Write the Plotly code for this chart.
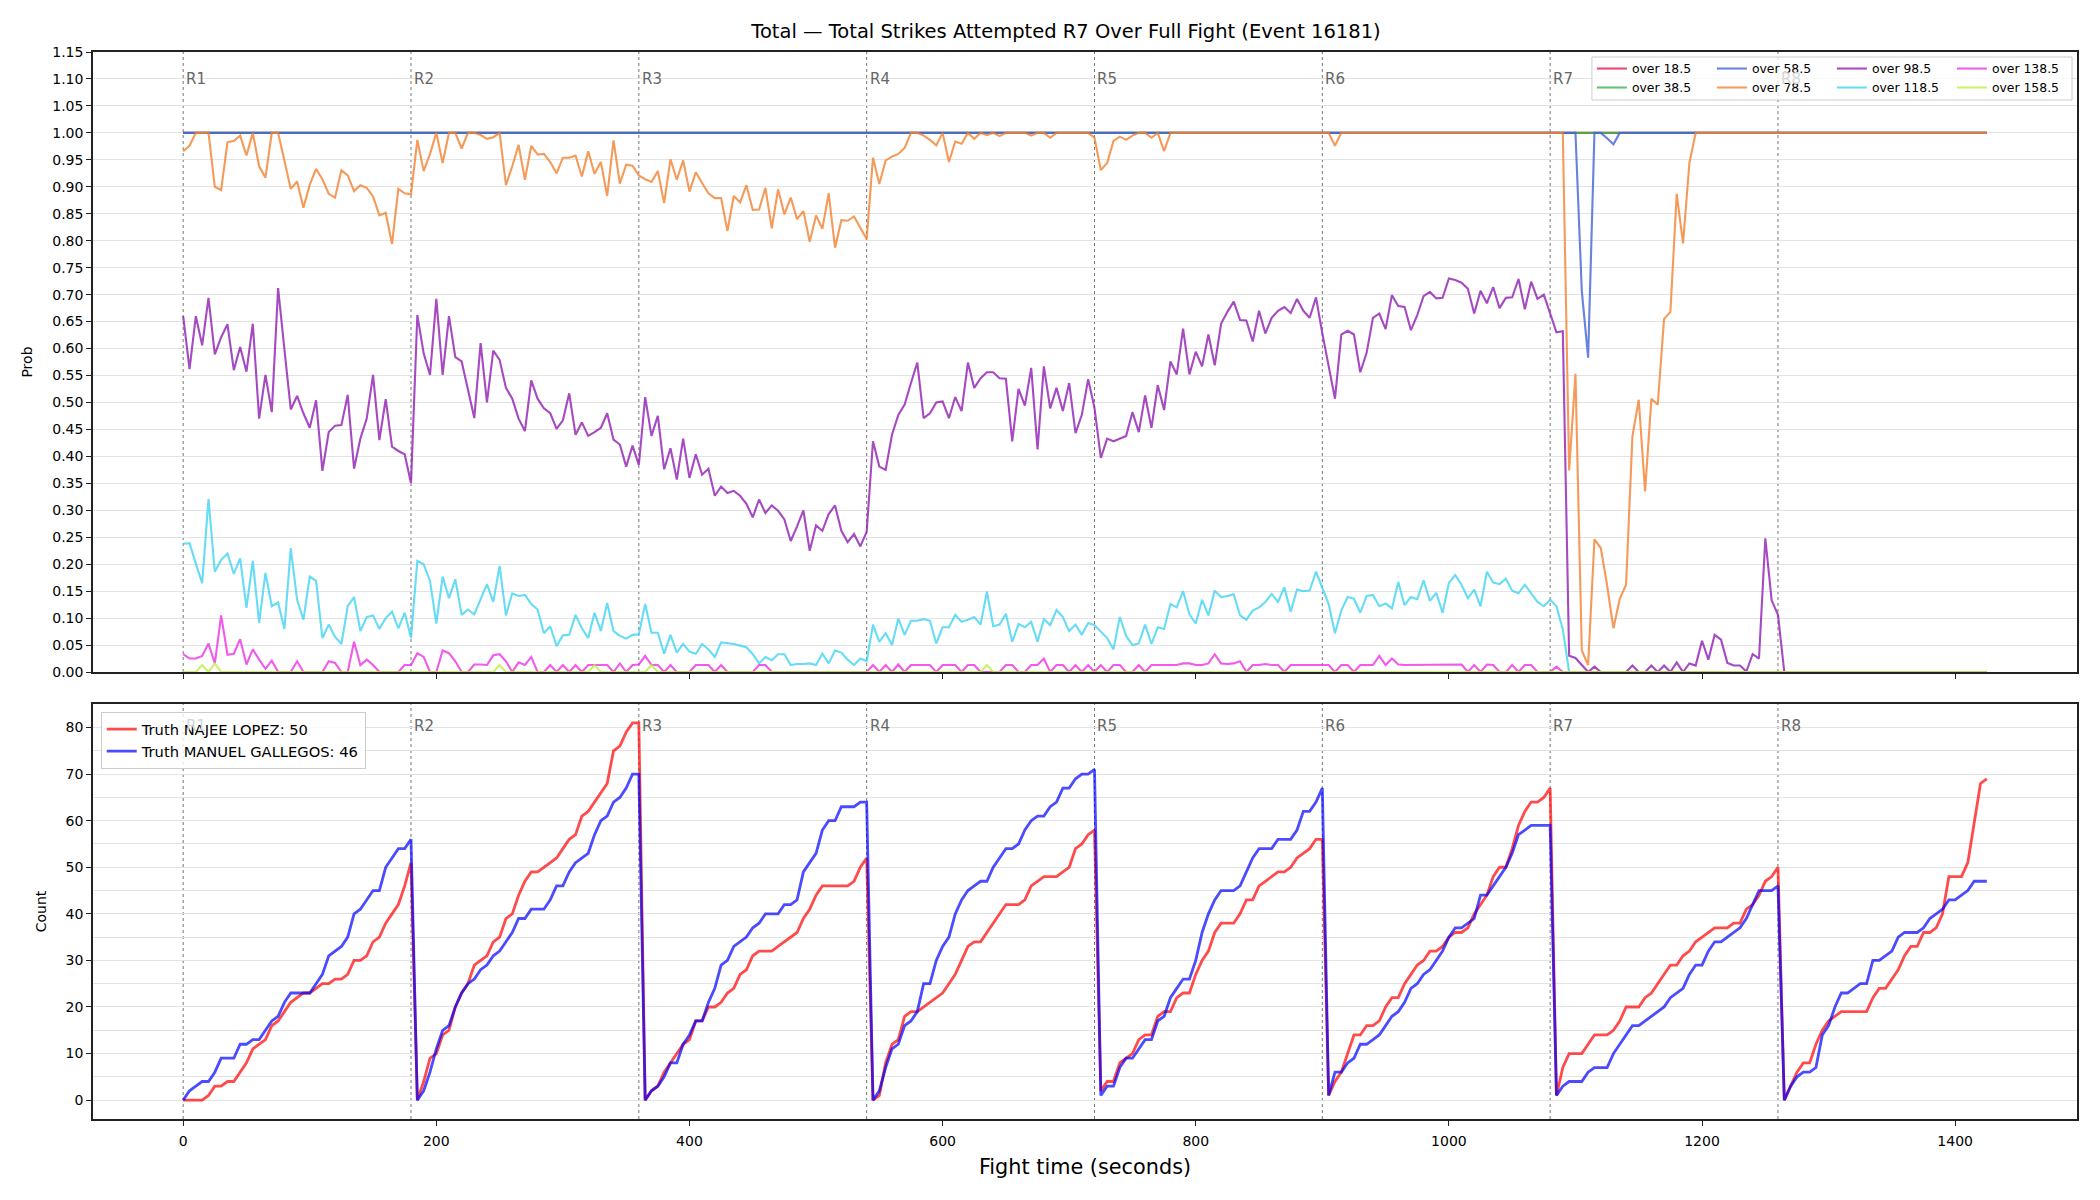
import plotly.graph_objects as go

# ---------------- data ----------------
fight_time = list(range(0, 1430, 5))          # sample times (s), 286 samples
round_starts = [0, 180, 360, 540, 720, 900, 1080, 1260]
round_labels = ["R1", "R2", "R3", "R4", "R5", "R6", "R7", "R8"]

line_names = ["over 18.5", "over 38.5", "over 58.5", "over 78.5",
              "over 98.5", "over 118.5", "over 138.5", "over 158.5"]
line_colors = ["#e6194b", "#3cb44b", "#4363d8", "#f58231",
               "#911eb4", "#42d4f4", "#f032e6", "#bfef45"]

over_18_5 = [1.0] * 286
over_38_5 = [1.0] * 286
over_58_5 = [1.0] * 221 + [0.707, 0.583, 1.0, 1.0, 0.990, 0.979] + [1.0] * 59

over_78_5 = (
    # R1
    [0.966, 0.976, 1.0, 1.0, 1.0, 0.900, 0.894, 0.983, 0.985, 0.995, 0.958, 1.0, 0.938,
     0.917, 1.0, 1.0, 0.947, 0.896, 0.910, 0.861, 0.904, 0.933, 0.914, 0.887, 0.880, 0.931,
     0.921, 0.892, 0.903, 0.898, 0.882, 0.847, 0.852, 0.794, 0.896, 0.888, 0.886]
    # R2
    + [0.987, 0.929, 0.961, 1.0, 0.944, 1.0, 1.0, 0.971, 1.0, 1.0, 0.996, 0.989, 0.992, 1.0,
       0.903, 0.938, 0.978, 0.913, 0.976, 0.960, 0.961, 0.946, 0.925, 0.954, 0.954, 0.958,
       0.919, 0.966, 0.924, 0.946, 0.883, 0.986, 0.906, 0.941, 0.939, 0.921]
    # R3
    + [0.914, 0.909, 0.929, 0.870, 0.951, 0.913, 0.949, 0.891, 0.927, 0.907, 0.888, 0.879,
       0.879, 0.818, 0.883, 0.871, 0.903, 0.857, 0.858, 0.898, 0.823, 0.895, 0.849, 0.880,
       0.840, 0.855, 0.798, 0.847, 0.822, 0.888, 0.787, 0.838, 0.837, 0.845, 0.823, 0.803]
    # R4
    + [0.954, 0.905, 0.949, 0.956, 0.961, 0.972, 1.0, 1.0, 0.995, 0.987, 0.977, 1.0, 0.946,
       0.984, 0.980, 1.0, 0.989, 1.0, 0.996, 1.0, 0.994, 1.0, 1.0, 1.0, 1.0, 0.995, 1.0, 1.0,
       0.991, 1.0, 1.0, 1.0, 1.0, 1.0, 1.0, 0.991]
    # R5
    + [0.931, 0.944, 0.985, 0.993, 0.987, 0.995, 1.0, 1.0, 0.991, 1.0, 0.966, 1.0] + [1.0] * 24
    # R6
    + [1.0, 0.976] + [1.0] * 34
    # R7
    + [1.0, 1.0, 0.374, 0.553, 0.040, 0.013, 0.246, 0.230, 0.161, 0.081, 0.136, 0.162, 0.437,
       0.505, 0.335, 0.507, 0.496, 0.655, 0.668, 0.887, 0.795, 0.944, 1.0] + [1.0] * 13
    # R8
    + [1.0] * 33
)

over_98_5 = (
    [0.660, 0.562, 0.660, 0.606, 0.694, 0.589, 0.621, 0.645, 0.560, 0.603, 0.557, 0.646,
     0.470, 0.551, 0.482, 0.712, 0.598, 0.487, 0.512, 0.480, 0.453, 0.504, 0.373, 0.445,
     0.457, 0.458, 0.514, 0.377, 0.433, 0.470, 0.551, 0.430, 0.506, 0.418, 0.410, 0.404, 0.350]
    + [0.662, 0.591, 0.551, 0.692, 0.551, 0.660, 0.584, 0.576, 0.524, 0.471, 0.610, 0.500,
       0.596, 0.579, 0.527, 0.507, 0.470, 0.447, 0.541, 0.507, 0.489, 0.480, 0.451, 0.467,
       0.517, 0.440, 0.463, 0.438, 0.445, 0.453, 0.480, 0.431, 0.422, 0.381, 0.420, 0.384]
    + [0.510, 0.438, 0.475, 0.376, 0.415, 0.357, 0.433, 0.360, 0.404, 0.366, 0.377, 0.327,
       0.344, 0.332, 0.336, 0.327, 0.312, 0.287, 0.320, 0.295, 0.309, 0.299, 0.283, 0.243,
       0.270, 0.300, 0.225, 0.272, 0.262, 0.293, 0.309, 0.262, 0.241, 0.256, 0.233, 0.260]
    + [0.428, 0.381, 0.375, 0.440, 0.477, 0.496, 0.536, 0.574, 0.471, 0.480, 0.500, 0.502,
       0.471, 0.510, 0.484, 0.574, 0.527, 0.545, 0.556, 0.556, 0.545, 0.544, 0.428, 0.525,
       0.494, 0.564, 0.413, 0.567, 0.489, 0.527, 0.484, 0.536, 0.443, 0.477, 0.543, 0.490]
    + [0.397, 0.433, 0.428, 0.433, 0.438, 0.482, 0.445, 0.513, 0.453, 0.532, 0.486, 0.576,
       0.552, 0.637, 0.552, 0.594, 0.567, 0.626, 0.569, 0.646, 0.668, 0.687, 0.653, 0.652,
       0.613, 0.670, 0.628, 0.657, 0.670, 0.677, 0.666, 0.692, 0.670, 0.657, 0.695, 0.628]
    + [0.568, 0.507, 0.626, 0.633, 0.626, 0.556, 0.592, 0.657, 0.665, 0.636, 0.699, 0.679,
       0.677, 0.634, 0.662, 0.697, 0.705, 0.693, 0.694, 0.730, 0.727, 0.722, 0.711, 0.665,
       0.707, 0.684, 0.714, 0.675, 0.694, 0.695, 0.729, 0.673, 0.724, 0.692, 0.700, 0.663]
    + [0.630, 0.632, 0.030, 0.026, 0.012, 0.0, 0.010, 0.0, 0.0, 0.0, 0.0, 0.0, 0.012, 0.0,
       0.0, 0.012, 0.0, 0.012, 0.0, 0.018, 0.0, 0.016, 0.012, 0.058, 0.023, 0.069, 0.060,
       0.017, 0.012, 0.012, 0.001, 0.033, 0.025, 0.248, 0.133, 0.106]
    + [0.0] * 33
)

over_118_5 = (
    [0.238, 0.239, 0.201, 0.165, 0.321, 0.186, 0.208, 0.220, 0.182, 0.211, 0.119, 0.206,
     0.091, 0.184, 0.122, 0.129, 0.080, 0.230, 0.134, 0.097, 0.177, 0.169, 0.063, 0.088,
     0.065, 0.052, 0.122, 0.139, 0.076, 0.102, 0.105, 0.080, 0.100, 0.112, 0.081, 0.110, 0.063]
    + [0.206, 0.200, 0.169, 0.090, 0.177, 0.137, 0.172, 0.106, 0.116, 0.107, 0.135, 0.163,
       0.130, 0.197, 0.105, 0.146, 0.141, 0.143, 0.126, 0.116, 0.072, 0.085, 0.048, 0.068,
       0.069, 0.106, 0.081, 0.063, 0.110, 0.076, 0.128, 0.076, 0.067, 0.062, 0.069, 0.070]
    + [0.126, 0.073, 0.073, 0.034, 0.069, 0.036, 0.052, 0.038, 0.034, 0.052, 0.042, 0.028,
       0.055, 0.054, 0.052, 0.049, 0.046, 0.033, 0.016, 0.028, 0.022, 0.033, 0.033, 0.013,
       0.015, 0.015, 0.016, 0.013, 0.034, 0.016, 0.040, 0.036, 0.023, 0.013, 0.025, 0.020]
    + [0.088, 0.056, 0.072, 0.050, 0.099, 0.069, 0.095, 0.095, 0.098, 0.095, 0.053, 0.083,
       0.083, 0.106, 0.093, 0.097, 0.102, 0.088, 0.149, 0.085, 0.088, 0.108, 0.056, 0.089,
       0.083, 0.093, 0.056, 0.098, 0.087, 0.115, 0.102, 0.076, 0.088, 0.069, 0.091, 0.087]
    + [0.075, 0.063, 0.042, 0.102, 0.067, 0.050, 0.053, 0.088, 0.052, 0.083, 0.080, 0.126,
       0.120, 0.150, 0.107, 0.090, 0.134, 0.105, 0.151, 0.139, 0.141, 0.144, 0.105, 0.097,
       0.114, 0.120, 0.130, 0.145, 0.130, 0.157, 0.112, 0.153, 0.150, 0.151, 0.186, 0.154]
    + [0.126, 0.072, 0.114, 0.139, 0.136, 0.110, 0.141, 0.143, 0.122, 0.127, 0.118, 0.167,
       0.124, 0.139, 0.135, 0.170, 0.132, 0.147, 0.110, 0.165, 0.180, 0.162, 0.137, 0.153,
       0.122, 0.186, 0.166, 0.163, 0.173, 0.151, 0.146, 0.162, 0.147, 0.130, 0.122, 0.134]
    + [0.122, 0.079] + [0.0] * 34
    + [0.0] * 33
)

over_138_5 = (
    [0.033, 0.025, 0.025, 0.030, 0.053, 0.016, 0.105, 0.032, 0.034, 0.061, 0.014, 0.042,
     0.023, 0.006, 0.021, 0.0, 0.0, 0.0, 0.020, 0.0, 0.0, 0.0, 0.0, 0.020, 0.017, 0.0, 0.0,
     0.056, 0.013, 0.023, 0.013, 0.0, 0.0, 0.0, 0.0, 0.013, 0.013]
    + [0.035, 0.028, 0.0, 0.0, 0.040, 0.035, 0.020, 0.0, 0.0, 0.014, 0.014, 0.013, 0.031,
       0.033, 0.020, 0.0, 0.018, 0.013, 0.028, 0.0, 0.0, 0.013, 0.0, 0.013, 0.0, 0.013, 0.0,
       0.013, 0.013, 0.013, 0.013, 0.0, 0.016, 0.0, 0.013, 0.014]
    + [0.030, 0.013, 0.013, 0.0, 0.013, 0.0, 0.0, 0.0, 0.013, 0.013, 0.013, 0.0, 0.013, 0.0,
       0.0, 0.0, 0.0, 0.0, 0.013, 0.013] + [0.0] * 16
    + [0.013, 0.0, 0.013, 0.0, 0.014, 0.0, 0.013, 0.013, 0.014, 0.013, 0.0, 0.013, 0.013,
       0.013, 0.0, 0.013, 0.013, 0.0, 0.0, 0.0, 0.0, 0.013, 0.013, 0.0, 0.0, 0.013, 0.013,
       0.025, 0.0, 0.013, 0.013, 0.0, 0.013, 0.0, 0.013, 0.0]
    + [0.013, 0.0, 0.013, 0.013, 0.0, 0.0, 0.013, 0.0, 0.013, 0.013, 0.013, 0.013, 0.013,
       0.016, 0.016, 0.013, 0.013, 0.016, 0.033, 0.016, 0.015, 0.016, 0.020, 0.0, 0.013,
       0.013, 0.015, 0.013, 0.013, 0.0, 0.013, 0.013, 0.013, 0.013, 0.013, 0.013]
    + [0.013, 0.0, 0.013, 0.013, 0.0, 0.013, 0.013, 0.013, 0.030, 0.013, 0.025, 0.014,
       0.013, 0.013, 0.013, 0.013, 0.013, 0.013, 0.013, 0.013, 0.014, 0.014, 0.0, 0.013, 0.0,
       0.014, 0.013, 0.0, 0.0, 0.013, 0.0, 0.013, 0.013, 0.0, 0.0, 0.0]
    + [0.010, 0.0] + [0.0] * 34
    + [0.0] * 33
)

over_158_5 = (
    [0.0, 0.0, 0.0, 0.013, 0.0, 0.016] + [0.0] * 31
    + [0.0] * 13 + [0.013] + [0.0] * 14 + [0.013] + [0.0] * 7
    + [0.0, 0.013] + [0.0] * 34
    + [0.0] * 18 + [0.013] + [0.0] * 17
    + [0.0] * 36 + [0.0] * 36 + [0.0] * 36 + [0.0] * 33
)

truth_lopez = (
    [0, 0, 0, 0, 1, 3, 3, 4, 4, 6, 8, 11, 12, 13, 16, 17, 19, 21, 22, 23, 23, 24, 25, 25,
     26, 26, 27, 30, 30, 31, 34, 35, 38, 40, 42, 46, 51]
    + [0, 4, 9, 10, 14, 15, 20, 23, 25, 29, 30, 31, 34, 35, 39, 40, 44, 47, 49, 49, 50, 51,
       52, 54, 56, 57, 61, 62, 64, 66, 68, 75, 76, 79, 81, 81]
    + [0, 2, 3, 6, 8, 10, 12, 13, 17, 17, 20, 20, 21, 23, 24, 27, 28, 31, 32, 32, 32, 33,
       34, 35, 36, 39, 41, 44, 46, 46, 46, 46, 46, 47, 50, 52]
    + [0, 1, 8, 12, 13, 18, 19, 19, 20, 21, 22, 23, 25, 27, 30, 33, 34, 34, 36, 38, 40, 42,
       42, 42, 43, 46, 47, 48, 48, 48, 49, 50, 54, 55, 57, 58]
    + [2, 4, 4, 8, 9, 10, 13, 14, 14, 18, 19, 19, 22, 23, 23, 27, 30, 32, 36, 38, 38, 38,
       40, 43, 43, 46, 47, 48, 49, 49, 50, 52, 53, 54, 56, 56]
    + [1, 4, 6, 10, 14, 14, 16, 16, 17, 20, 22, 22, 25, 27, 29, 30, 32, 32, 33, 35, 36, 36,
       37, 40, 42, 44, 48, 50, 50, 54, 59, 62, 64, 64, 65, 67]
    + [1, 7, 10, 10, 10, 12, 14, 14, 14, 15, 17, 20, 20, 20, 22, 23, 25, 27, 29, 29, 31, 32,
       34, 35, 36, 37, 37, 37, 38, 38, 41, 42, 44, 47, 48, 50]
    + [0, 3, 6, 8, 8, 12, 15, 17, 18, 19, 19, 19, 19, 19, 22, 24, 24, 26, 28, 31, 33, 33,
       36, 36, 37, 40, 48, 48, 48, 51, 60, 68, 69]
)

truth_gallegos = (
    [0, 2, 3, 4, 4, 6, 9, 9, 9, 12, 12, 13, 13, 15, 17, 18, 21, 23, 23, 23, 23, 25, 27, 31,
     32, 33, 35, 40, 41, 43, 45, 45, 50, 52, 54, 54, 56]
    + [0, 2, 6, 11, 15, 16, 20, 23, 25, 26, 28, 29, 31, 32, 34, 36, 39, 39, 41, 41, 41, 43,
       46, 46, 49, 51, 52, 53, 57, 60, 61, 64, 65, 67, 70, 70]
    + [0, 2, 3, 5, 8, 8, 12, 14, 17, 17, 21, 24, 29, 30, 33, 34, 35, 37, 38, 40, 40, 40, 42,
       42, 43, 49, 51, 53, 58, 60, 60, 63, 63, 63, 64, 64]
    + [0, 2, 7, 11, 12, 16, 17, 19, 25, 25, 30, 33, 35, 40, 43, 45, 46, 47, 47, 50, 52, 54,
       54, 55, 58, 60, 61, 61, 63, 64, 67, 67, 69, 70, 70, 71]
    + [1, 3, 3, 7, 9, 9, 11, 13, 13, 17, 18, 22, 24, 26, 26, 30, 36, 40, 43, 45, 45, 45, 46,
       49, 52, 54, 54, 54, 56, 56, 56, 58, 62, 62, 64, 67]
    + [1, 6, 6, 8, 9, 12, 12, 13, 14, 16, 18, 19, 21, 24, 25, 27, 28, 30, 32, 35, 37, 37,
       38, 39, 44, 44, 46, 48, 50, 53, 57, 58, 59, 59, 59, 59]
    + [1, 3, 4, 4, 4, 6, 7, 7, 7, 10, 12, 14, 16, 16, 17, 18, 19, 20, 22, 23, 24, 27, 29,
       29, 32, 34, 34, 35, 36, 37, 39, 42, 45, 45, 45, 46]
    + [0, 3, 5, 6, 6, 7, 14, 16, 20, 23, 23, 24, 25, 25, 30, 30, 31, 32, 35, 36, 36, 36, 37,
       39, 40, 41, 43, 43, 44, 45, 47, 47, 47]
)

truth_names = ["Truth NAJEE LOPEZ: 50", "Truth MANUEL GALLEGOS: 46"]
truth_colors = ["red", "blue"]

prob_series = [over_18_5, over_38_5, over_58_5, over_78_5,
               over_98_5, over_118_5, over_138_5, over_158_5]
for s in prob_series + [truth_lopez, truth_gallegos]:
    assert len(s) == len(fight_time), len(s)

# ---------------- figure ----------------
FONT = "DejaVu Sans"
fig = go.Figure()

# legend rows: row 1 = 18.5, 58.5, 98.5, 138.5 ; row 2 = 38.5, 78.5, 118.5, 158.5
legend_row = ["legend", "legend2", "legend", "legend2", "legend", "legend2", "legend", "legend2"]
for name, col, vals, lg in zip(line_names, line_colors, prob_series, legend_row):
    fig.add_trace(go.Scatter(
        x=fight_time, y=vals, mode="lines", name=name,
        line=dict(color=col, width=2.1), opacity=0.8,
        xaxis="x", yaxis="y", legend=lg))

for name, col, vals in zip(truth_names, truth_colors, [truth_lopez, truth_gallegos]):
    fig.add_trace(go.Scatter(
        x=fight_time, y=vals, mode="lines", name=name,
        line=dict(color=col, width=2.8), opacity=0.7,
        xaxis="x2", yaxis="y2", legend="legend3"))

shapes = []
annotations = []
for t, lab in zip(round_starts, round_labels):
    for xr, yr in (("x", "y domain"), ("x2", "y2 domain")):
        shapes.append(dict(type="line", xref=xr, yref=yr, x0=t, x1=t, y0=0, y1=1,
                           line=dict(color="rgba(70,70,70,0.75)", width=1, dash="dot"),
                           layer="below"))
    top_col = "#d6d6d6" if lab == "R8" else "#666666"
    bot_col = "#d6d6d6" if lab == "R1" else "#666666"
    annotations.append(dict(x=t, y=1.10, xref="x", yref="y", text=lab, showarrow=False,
                            xanchor="left", yanchor="middle", xshift=1,
                            font=dict(family=FONT, size=15, color=top_col)))
    annotations.append(dict(x=t, y=80.4, xref="x2", yref="y2", text=lab, showarrow=False,
                            xanchor="left", yanchor="middle", xshift=1,
                            font=dict(family=FONT, size=15, color=bot_col)))

# translucent legend box behind the two top legend rows
shapes.append(dict(type="rect", xref="paper", yref="paper",
                   x0=0.7555, x1=0.9975, y0=0.9550, y1=0.9953,
                   fillcolor="rgba(255,255,255,0.8)",
                   line=dict(color="#cccccc", width=1), layer="above"))

axis_common = dict(showline=True, linecolor="#222222", linewidth=1.6, mirror=True,
                   ticks="outside", ticklen=5, tickwidth=1.4, tickcolor="#222222",
                   zeroline=False, tickfont=dict(family=FONT, size=14, color="black"))

fig.update_layout(
    width=2100, height=1200,
    margin=dict(l=93, r=23, t=52, b=81, autoexpand=False),
    paper_bgcolor="white", plot_bgcolor="white",
    font=dict(family=FONT, size=14, color="black"),
    title=dict(text="Total \u2014 Total Strikes Attempted R7 Over Full Fight (Event 16181)",
               x=1066 / 2100, xanchor="center", xref="container",
               y=1 - 31 / 1200, yanchor="middle",
               font=dict(family=FONT, size=19.5, color="black")),
    xaxis=dict(domain=[0, 1], anchor="y", range=[-71.25, 1496.25],
               tickvals=[0, 200, 400, 600, 800, 1000, 1200, 1400],
               showticklabels=False, showgrid=False, **axis_common),
    yaxis=dict(domain=[0.4189, 1], anchor="x", range=[0, 1.15],
               tickvals=[round(i * 0.05, 2) for i in range(24)], tickformat=".2f",
               showgrid=True, gridcolor="#e3e3e3", gridwidth=1,
               title=dict(text="Prob", standoff=16, font=dict(family=FONT, size=14)),
               **axis_common),
    xaxis2=dict(domain=[0, 1], anchor="y2", range=[-71.25, 1496.25], matches="x",
                tickvals=[0, 200, 400, 600, 800, 1000, 1200, 1400],
                showgrid=False, ticklabelstandoff=3,
                title=dict(text="Fight time (seconds)", standoff=12,
                           font=dict(family=FONT, size=20.8)),
                **axis_common),
    yaxis2=dict(domain=[0, 0.3889], anchor="x2", range=[-4.05, 85.05],
                tickvals=[0, 10, 20, 30, 40, 50, 60, 70, 80],
                showgrid=True, gridcolor="#e3e3e3", gridwidth=1,
                minor=dict(tickvals=[5, 15, 25, 35, 45, 55, 65, 75], showgrid=True,
                           gridcolor="#e3e3e3", gridwidth=1, ticklen=0),
                title=dict(text="Count", standoff=16, font=dict(family=FONT, size=14)),
                **axis_common),
    legend=dict(orientation="h", x=0.7555, xanchor="left", y=0.9841, yanchor="middle",
                entrywidth=75, entrywidthmode="pixels", bgcolor="rgba(0,0,0,0)",
                borderwidth=0, font=dict(family=FONT, size=12.4, color="black"),
                itemwidth=30, tracegroupgap=0),
    legend2=dict(orientation="h", x=0.7555, xanchor="left", y=0.9663, yanchor="middle",
                 entrywidth=75, entrywidthmode="pixels", bgcolor="rgba(0,0,0,0)",
                 borderwidth=0, font=dict(family=FONT, size=12.4, color="black"),
                 itemwidth=30, tracegroupgap=0),
    legend3=dict(orientation="v", x=0.0039, xanchor="left", y=0.3814, yanchor="top",
                 bgcolor="rgba(255,255,255,0.8)", bordercolor="#cccccc", borderwidth=1,
                 font=dict(family=FONT, size=14.7, color="black"), itemwidth=30),
    shapes=shapes,
    annotations=annotations,
    showlegend=True,
)

fig.write_html("out.html")
